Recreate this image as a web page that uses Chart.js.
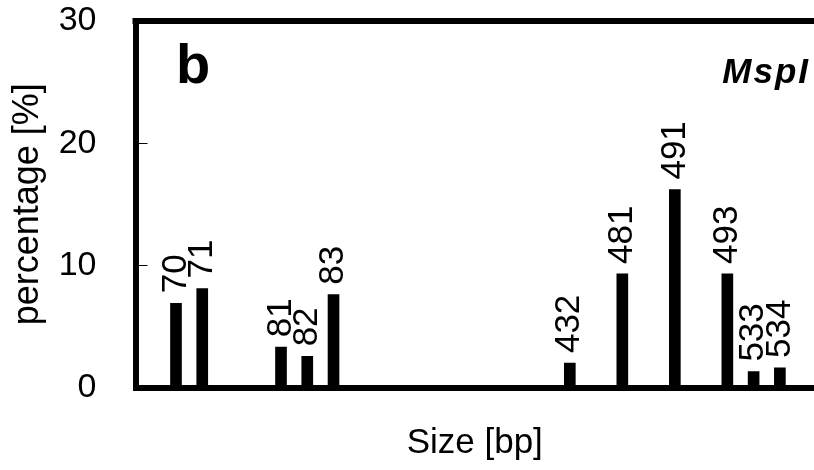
<!DOCTYPE html>
<html>
<head>
<meta charset="utf-8">
<script src="https://cdn.jsdelivr.net/npm/chart.js@4.4.1/dist/chart.umd.min.js"></script>
<style>
	html, body { margin: 0; padding: 0; background: #fff; }
</style>
</head>
<body>
<canvas id="mspChart" width="814" height="470"></canvas>
<script>
// fragment sizes (bp), the slot each one takes on the x axis, and the share in %
const sizes = ['70', '71', '81', '82', '83', '432', '481', '491', '493', '533', '534'];
const slots = [0, 1, 4, 5, 6, 15, 17, 19, 21, 22, 23];
const percentages = [6.9, 8.1, 3.3, 2.55, 7.6, 2.0, 9.3, 16.2, 9.3, 1.3, 1.6];
const yTicks = [0, 10, 20, 30];

const FONT = "'Liberation Sans', Arial, sans-serif";

// top frame line and the small inward ticks on the y axis
const framePlugin = {
	id: 'frame',
	afterDraw: function(chart) {
		let ctx = chart.ctx;
		let area = chart.chartArea;
		let y = chart.scales.y;
		ctx.save();
		ctx.strokeStyle = '#000';
		ctx.lineWidth = 6;
		ctx.beginPath();
		ctx.moveTo(area.left - 3, area.top);
		ctx.lineTo(area.right, area.top);
		ctx.stroke();

		ctx.lineWidth = 1;
		yTicks.slice(1, -1).forEach((v) => {
			let py = Math.round(y.getPixelForValue(v)) + 0.5;
			ctx.beginPath();
			ctx.moveTo(area.left, py);
			ctx.lineTo(area.left + 12, py);
			ctx.stroke();
		});
		ctx.restore();
	}
};

// rotated size labels above each bar, plus the panel letter and enzyme name
const labelPlugin = {
	id: 'barLabels',
	afterDatasetsDraw: function(chart) {
		let ctx = chart.ctx;
		let meta = chart.getDatasetMeta(0);
		ctx.save();
		ctx.fillStyle = '#000';
		ctx.font = '35px ' + FONT;
		ctx.textAlign = 'left';
		ctx.textBaseline = 'middle';
		meta.data.forEach((bar, i) => {
			ctx.save();
			ctx.translate(bar.x, bar.y - 10);
			ctx.rotate(-Math.PI / 2);
			ctx.fillText(sizes[i], 0, 0);
			ctx.restore();
		});

		ctx.textBaseline = 'alphabetic';
		ctx.font = 'bold 56px ' + FONT;
		ctx.fillText('b', 176, 83);

		ctx.font = 'italic bold 35px ' + FONT;
		ctx.textAlign = 'right';
		ctx.letterSpacing = '2px';
		ctx.fillText('MspI', 810, 83);
		ctx.restore();
	}
};

new Chart(document.getElementById('mspChart'), {
	type: 'bar',
	data: {
		datasets: [{
			data: slots.map((s, i) => ({ x: s, y: percentages[i] })),
			backgroundColor: '#000',
			borderWidth: 0,
			barThickness: 11
		}]
	},
	options: {
		responsive: false,
		animation: false,
		devicePixelRatio: 1,
		layout: {
			padding: { top: 21, right: 0, left: 0, bottom: 0 }
		},
		plugins: {
			legend: { display: false },
			tooltip: { enabled: false }
		},
		scales: {
			x: {
				type: 'linear',
				min: -1.542,
				max: 24.3,
				offset: false,
				grid: { display: false },
				border: { display: true, color: '#000', width: 6 },
				ticks: { display: false },
				title: {
					display: true,
					text: 'Size [bp]',
					color: '#000',
					font: { family: FONT, size: 35 },
					padding: { top: 0, bottom: 6 }
				},
				afterFit: function(scale) {
					scale.height = 82.5;
					scale.paddingLeft = 0;
					scale.paddingRight = 0;
				}
			},
			y: {
				min: 0,
				max: 30,
				grid: { display: false, drawTicks: false },
				border: { display: true, color: '#000', width: 6 },
				afterBuildTicks: function(scale) {
					scale.ticks = yTicks.map((v) => ({ value: v }));
				},
				ticks: {
					color: '#000',
					padding: 39,
					font: { family: FONT, size: 34 }
				},
				title: {
					display: true,
					text: 'percentage [%]',
					color: '#000',
					font: { family: FONT, size: 36 },
					padding: { top: 6, bottom: 0 }
				},
				afterFit: function(scale) {
					scale.width = 135.5;
					scale.paddingTop = 0;
					scale.paddingBottom = 0;
				}
			}
		}
	},
	plugins: [framePlugin, labelPlugin]
});
</script>
</body>
</html>
